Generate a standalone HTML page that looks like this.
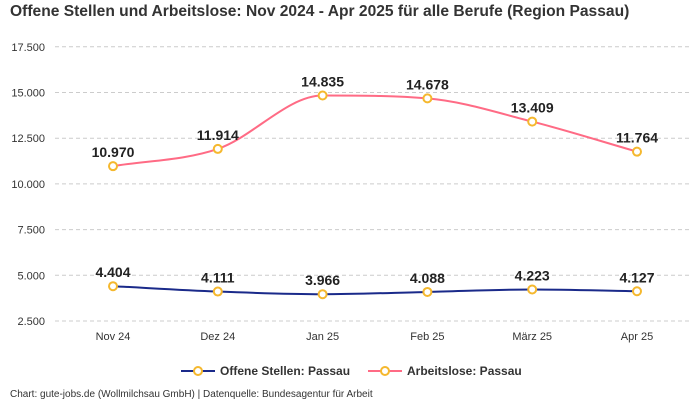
<!DOCTYPE html>
<html><head><meta charset="utf-8"><style>
body{margin:0;background:#fff;font-family:"Liberation Sans",sans-serif;}
#wrap{position:relative;width:700px;height:400px;overflow:hidden;}
</style></head><body>
<div id="wrap">
<svg id="svg" width="700" height="400" xmlns="http://www.w3.org/2000/svg"></svg>
</div>
<script>
const categories=["Nov 24","Dez 24","Jan 25","Feb 25","März 25","Apr 25"];
const offene=[4404,4111,3966,4088,4223,4127];
const arbeitslose=[10970,11914,14835,14678,13409,11764];
const yTicks=[2500,5000,7500,10000,12500,15000,17500];
const fmt=v=>v.toLocaleString('de-DE').replace(/,/g,'.');
const NS="http://www.w3.org/2000/svg";
const svg=document.getElementById('svg');
function el(t,a,p){const e=document.createElementNS(NS,t);for(const k in a)e.setAttribute(k,a[k]);(p||svg).appendChild(e);return e;}
const x0=113,dx=104.8;
const xs=i=>x0+i*dx;
const ys=v=>321-(v-2500)/2500*45.7;
let t=el('text',{x:10,y:16,'font-size':15.6,'font-weight':'bold',fill:'#333'});t.textContent="Offene Stellen und Arbeitslose: Nov 2024 - Apr 2025 für alle Berufe (Region Passau)";

yTicks.forEach(v=>{
 const g=el('line',{x1:55,x2:690,y1:ys(v),y2:ys(v),stroke:'#ccc','stroke-dasharray':'4,3'});
 
 const l=el('text',{x:45,y:ys(v)+4,'font-size':11,fill:'#333','text-anchor':'end'});l.textContent=fmt(v);
 
});
categories.forEach((c,i)=>{
 const l=el('text',{x:xs(i),y:340,'font-size':11,fill:'#333','text-anchor':'middle'});l.textContent=c;
 
});
function monotone(pts){
 const n=pts.length,d=[],m=[];
 for(let i=0;i<n-1;i++)d.push((pts[i+1][1]-pts[i][1])/(pts[i+1][0]-pts[i][0]));
 m[0]=d[0];m[n-1]=d[n-2];
 for(let i=1;i<n-1;i++)m[i]=d[i-1]*d[i]<=0?0:(d[i-1]+d[i])/2;
 for(let i=0;i<n-1;i++){if(d[i]===0){m[i]=m[i+1]=0;continue;}const a=m[i]/d[i],b=m[i+1]/d[i],s=a*a+b*b;if(s>9){const tt=3/Math.sqrt(s);m[i]=tt*a*d[i];m[i+1]=tt*b*d[i];}}
 let p=`M${pts[0][0]},${pts[0][1]}`;
 for(let i=0;i<n-1;i++){const h=(pts[i+1][0]-pts[i][0])/3;p+=`C${pts[i][0]+h},${pts[i][1]+m[i]*h} ${pts[i+1][0]-h},${pts[i+1][1]-m[i+1]*h} ${pts[i+1][0]},${pts[i+1][1]}`;}
 return p;
}
function series(vals,color,name){
 const pts=vals.map((v,i)=>[xs(i),ys(v)]);
 const p=el('path',{d:monotone(pts),fill:'none',stroke:color,'stroke-width':2});
 
 vals.forEach((v,i)=>{
  const c=el('circle',{cx:xs(i),cy:ys(v),r:4,fill:'#fff',stroke:'#f5b82e','stroke-width':2});
  
  const l=el('text',{x:xs(i),y:ys(v)-9,'font-size':14,'font-weight':'bold',fill:'#222','text-anchor':'middle'});l.textContent=fmt(v);
  
 });
}
series(offene,'#1a2a8a','offene-stellen');
series(arbeitslose,'#ff6b85','arbeitslose');
function legend(x,color,label,name){
 const g=el('g',{});
 
 el('line',{x1:x,x2:x+34,y1:371,y2:371,stroke:color,'stroke-width':2},g);
 el('circle',{cx:x+17,cy:371,r:4,fill:'#fff',stroke:'#f5b82e','stroke-width':2},g);
 const l=el('text',{x:x+39,y:375,'font-size':12,'font-weight':'bold',fill:'#333'},g);l.textContent=label;
}
legend(181,'#1a2a8a','Offene Stellen: Passau','legend-offene-stellen');
legend(368,'#ff6b85','Arbeitslose: Passau','legend-arbeitslose');
const f=el('text',{x:10,y:397,'font-size':10,fill:'#333'});f.textContent="Chart: gute-jobs.de (Wollmilchsau GmbH) | Datenquelle: Bundesagentur für Arbeit";

</script>
</body></html>
